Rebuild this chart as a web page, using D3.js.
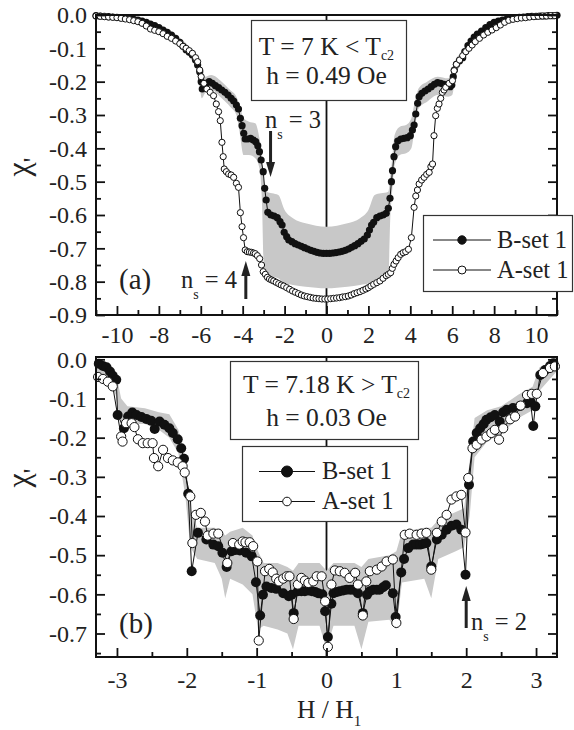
<!DOCTYPE html>
<meta charset="utf-8">
<title>chi' vs H</title>
<style>
  body { margin: 0; background: #fff; }
  text { font-family: "Liberation Serif", "Times New Roman", serif; fill: #222; }
  .band { fill: #c8c8c8; stroke: none; }
  .trace { fill: none; stroke: #111; stroke-width: 1; }
  .zero { stroke: #111; stroke-width: 1.8; }
  .frame { fill: none; stroke: #111; stroke-width: 2; }
  .box { fill: #fff; stroke: #333; stroke-width: 1.2; }
</style>
<body>
<script src="https://cdnjs.cloudflare.com/ajax/libs/d3/7.8.5/d3.min.js"></script>
<script>

var width = 574, height = 730;

// ---- panel (a): T = 7 K, h = 0.49 Oe, x = H (Oe) ----
var aBset = [
  [-11,-0.002],[-10.8,-0.003],[-10.6,-0.004],[-10.4,-0.005],[-10.2,-0.006],[-10,-0.007],
  [-9.8,-0.008],[-9.6,-0.009],[-9.4,-0.011],[-9.2,-0.013],[-9,-0.015],[-8.8,-0.018],
  [-8.6,-0.022],[-8.4,-0.027],[-8.2,-0.032],[-8,-0.038],[-7.8,-0.045],[-7.6,-0.052],
  [-7.4,-0.06],[-7.2,-0.07],[-7,-0.082],[-6.85,-0.094],[-6.7,-0.104],[-6.55,-0.112],
  [-6.4,-0.12],[-6.25,-0.135],[-6.15,-0.15],[-6.05,-0.17],[-5.98,-0.2],[-5.93,-0.222],
  [-5.85,-0.215],[-5.75,-0.205],[-5.6,-0.2],[-5.45,-0.205],[-5.3,-0.212],[-5.15,-0.218],
  [-5,-0.225],[-4.85,-0.232],[-4.7,-0.24],[-4.55,-0.25],[-4.43,-0.258],[-4.3,-0.27],
  [-4.2,-0.282],[-4.11,-0.31],[-4.03,-0.332],[-3.95,-0.355],[-3.88,-0.372],[-3.75,-0.372],
  [-3.62,-0.37],[-3.5,-0.375],[-3.38,-0.38],[-3.28,-0.392],[-3.2,-0.41],[-3.12,-0.435],
  [-3.02,-0.47],[-2.95,-0.52],[-2.88,-0.555],[-2.8,-0.592],[-2.65,-0.6],[-2.5,-0.603],
  [-2.35,-0.608],[-2.22,-0.62],[-2.12,-0.63],[-2.02,-0.652],[-1.9,-0.665],[-1.8,-0.675],
  [-1.65,-0.68],[-1.5,-0.686],[-1.35,-0.69],[-1.2,-0.694],[-1.05,-0.698],[-0.9,-0.702],
  [-0.75,-0.706],[-0.6,-0.709],[-0.45,-0.712],[-0.3,-0.714],[-0.15,-0.715],[0,-0.715],
  [0.15,-0.715],[0.3,-0.714],[0.45,-0.713],[0.6,-0.711],[0.75,-0.709],[0.9,-0.706],
  [1.05,-0.702],[1.2,-0.697],[1.35,-0.692],[1.5,-0.686],[1.65,-0.679],[1.8,-0.672],
  [1.95,-0.66],[2.05,-0.645],[2.15,-0.63],[2.25,-0.622],[2.4,-0.608],[2.55,-0.603],
  [2.7,-0.6],[2.85,-0.595],[2.95,-0.58],[3.03,-0.55],[3.1,-0.5],[3.15,-0.467],
  [3.22,-0.425],[3.3,-0.395],[3.4,-0.378],[3.55,-0.372],[3.7,-0.37],[3.85,-0.368],
  [4,-0.362],[4.1,-0.345],[4.18,-0.33],[4.26,-0.297],[4.35,-0.265],[4.42,-0.245],
  [4.55,-0.235],[4.7,-0.228],[4.85,-0.222],[5,-0.215],[5.15,-0.208],[5.3,-0.203],
  [5.45,-0.205],[5.6,-0.208],[5.78,-0.212],[5.9,-0.215],[5.98,-0.21],[6.05,-0.185],
  [6.1,-0.165],[6.2,-0.148],[6.35,-0.137],[6.5,-0.128],[6.6,-0.11],[6.75,-0.092],
  [6.9,-0.078],[7.05,-0.066],[7.2,-0.057],[7.4,-0.048],[7.6,-0.038],[7.8,-0.029],
  [8,-0.022],[8.2,-0.018],[8.4,-0.015],[8.6,-0.012],[8.8,-0.01],[9,-0.008],
  [9.2,-0.007],[9.4,-0.006],[9.6,-0.005],[9.8,-0.004],[10,-0.004],[10.2,-0.003],
  [10.4,-0.003],[10.6,-0.002],[10.8,-0.002],[11,-0.001]
];

var aAset = [
  [-11,-0.003],[-10.8,-0.004],[-10.6,-0.005],[-10.4,-0.006],[-10.2,-0.007],[-10,-0.008],
  [-9.8,-0.01],[-9.6,-0.012],[-9.4,-0.014],[-9.2,-0.017],[-9,-0.02],[-8.8,-0.025],
  [-8.6,-0.033],[-8.4,-0.042],[-8.2,-0.046],[-8,-0.05],[-7.8,-0.056],[-7.6,-0.064],
  [-7.4,-0.07],[-7.2,-0.078],[-7,-0.086],[-6.85,-0.094],[-6.7,-0.1],[-6.55,-0.107],
  [-6.4,-0.115],[-6.25,-0.128],[-6.15,-0.14],[-6.05,-0.165],[-5.98,-0.185],[-5.85,-0.205],
  [-5.71,-0.222],[-5.55,-0.232],[-5.39,-0.242],[-5.26,-0.267],[-5.15,-0.29],[-5.07,-0.317],
  [-4.99,-0.382],[-4.93,-0.425],[-4.88,-0.462],[-4.78,-0.47],[-4.67,-0.477],[-4.55,-0.48],
  [-4.43,-0.487],[-4.3,-0.505],[-4.2,-0.517],[-4.11,-0.593],[-4.03,-0.635],[-3.96,-0.668],
  [-3.88,-0.705],[-3.78,-0.71],[-3.68,-0.711],[-3.58,-0.712],[-3.48,-0.714],[-3.4,-0.716],
  [-3.3,-0.722],[-3.19,-0.731],[-3.1,-0.75],[-3.02,-0.77],[-2.92,-0.778],[-2.82,-0.787],
  [-2.72,-0.792],[-2.62,-0.795],[-2.52,-0.798],[-2.4,-0.802],[-2.28,-0.806],[-2.16,-0.81],
  [-2.04,-0.813],[-1.9,-0.818],[-1.76,-0.823],[-1.62,-0.828],[-1.48,-0.832],[-1.34,-0.836],
  [-1.2,-0.84],[-1.06,-0.843],[-0.92,-0.845],[-0.78,-0.847],[-0.64,-0.849],[-0.5,-0.85],
  [-0.36,-0.851],[-0.22,-0.852],[-0.08,-0.852],[0.06,-0.852],[0.2,-0.851],[0.34,-0.85],
  [0.48,-0.849],[0.62,-0.848],[0.76,-0.846],[0.9,-0.845],[1.04,-0.843],[1.18,-0.84],
  [1.32,-0.836],[1.46,-0.833],[1.6,-0.83],[1.74,-0.826],[1.88,-0.822],[2,-0.818],
  [2.12,-0.813],[2.25,-0.808],[2.4,-0.803],[2.55,-0.798],[2.7,-0.79],[2.85,-0.782],
  [2.95,-0.778],[3.06,-0.773],[3.14,-0.76],[3.22,-0.748],[3.32,-0.738],[3.42,-0.728],
  [3.54,-0.718],[3.66,-0.713],[3.78,-0.71],[3.91,-0.703],[4.05,-0.668],[4.18,-0.577],
  [4.26,-0.543],[4.34,-0.525],[4.42,-0.507],[4.54,-0.495],[4.66,-0.487],[4.78,-0.478],
  [4.9,-0.472],[4.98,-0.455],[5.06,-0.447],[5.13,-0.362],[5.21,-0.302],[5.29,-0.28],
  [5.37,-0.267],[5.45,-0.25],[5.53,-0.232],[5.61,-0.225],[5.69,-0.217],[5.85,-0.205],
  [6.01,-0.197],[6.09,-0.167],[6.2,-0.148],[6.35,-0.135],[6.5,-0.122],[6.65,-0.11],
  [6.8,-0.1],[6.95,-0.09],[7.1,-0.08],[7.3,-0.07],[7.5,-0.06],[7.7,-0.052],
  [7.9,-0.045],[8.1,-0.038],[8.3,-0.03],[8.5,-0.022],[8.7,-0.016],[8.9,-0.013],
  [9.1,-0.011],[9.3,-0.009],[9.5,-0.008],[9.7,-0.006],[9.9,-0.005],[10.1,-0.004],
  [10.3,-0.003],[10.5,-0.003],[10.7,-0.002],[10.9,-0.002]
];

// grey band around B-set: [H, upper, lower]
var aBand = [
  [-11,0,-0.004],[-10,-0.004,-0.01],[-9,-0.01,-0.02],[-8,-0.03,-0.046],[-7.5,-0.045,-0.068],
  [-7,-0.068,-0.095],[-6.5,-0.098,-0.13],[-6.2,-0.122,-0.168],[-6.05,-0.148,-0.215],
  [-5.95,-0.175,-0.25],[-5.8,-0.185,-0.235],[-5.5,-0.18,-0.225],[-5,-0.2,-0.25],
  [-4.6,-0.225,-0.275],[-4.3,-0.245,-0.3],[-4.15,-0.27,-0.35],[-3.95,-0.31,-0.42],
  [-3.7,-0.32,-0.42],[-3.4,-0.325,-0.43],[-3.2,-0.37,-0.46],[-3.08,-0.42,-0.56],
  [-2.98,-0.5,-0.77],[-2.85,-0.53,-0.785],[-2.6,-0.535,-0.785],[-2.3,-0.54,-0.79],
  [-2,-0.585,-0.805],[-1.6,-0.61,-0.81],[-1,-0.625,-0.815],[-0.5,-0.632,-0.818],
  [0,-0.635,-0.82],[0.5,-0.632,-0.818],[1,-0.625,-0.815],[1.6,-0.61,-0.81],
  [2,-0.585,-0.805],[2.3,-0.54,-0.795],[2.6,-0.535,-0.79],[2.95,-0.53,-0.785],
  [3.05,-0.48,-0.6],[3.12,-0.44,-0.54],[3.25,-0.36,-0.45],[3.5,-0.335,-0.42],
  [3.8,-0.33,-0.415],[4.05,-0.31,-0.4],[4.2,-0.265,-0.345],[4.4,-0.22,-0.28],
  [4.8,-0.2,-0.26],[5.3,-0.185,-0.24],[5.8,-0.19,-0.245],[6,-0.17,-0.24],
  [6.15,-0.135,-0.185],[6.4,-0.115,-0.15],[7,-0.06,-0.085],[7.5,-0.04,-0.06],
  [8,-0.02,-0.036],[9,-0.006,-0.014],[10,-0.002,-0.008],[11,0,-0.004]
];

var aXTicks = [-10, -8, -6, -4, -2, 0, 2, 4, 6, 8, 10];
var aXMinor = [-11, -9, -7, -5, -3, -1, 1, 3, 5, 7, 9, 11];
var aYTicks = [0, -0.1, -0.2, -0.3, -0.4, -0.5, -0.6, -0.7, -0.8, -0.9];
var aYMinor = [-0.05, -0.15, -0.25, -0.35, -0.45, -0.55, -0.65, -0.75, -0.85];

// ---- panel (b): T = 7.18 K, h = 0.03 Oe, x = H / H1 ----
var bBset = [
  [-3.26,-0.011],[-3.2,-0.017],[-3.15,-0.02],[-3.1,-0.031],[-3.06,-0.042],[-3.01,-0.052],
  [-2.99,-0.142],[-2.9,-0.176],[-2.84,-0.146],[-2.78,-0.136],[-2.72,-0.142],[-2.65,-0.147],
  [-2.58,-0.152],[-2.51,-0.157],[-2.46,-0.178],[-2.39,-0.159],[-2.32,-0.167],[-2.25,-0.176],
  [-2.2,-0.188],[-2.13,-0.204],[-2.08,-0.227],[-2.04,-0.254],[-1.98,-0.343],[-1.93,-0.541],
  [-1.84,-0.443],[-1.72,-0.46],[-1.62,-0.473],[-1.55,-0.477],[-1.49,-0.494],[-1.43,-0.53],
  [-1.36,-0.49],[-1.3,-0.487],[-1.24,-0.488],[-1.15,-0.494],[-1.07,-0.503],[-1.01,-0.569],
  [-0.95,-0.654],[-0.91,-0.601],[-0.86,-0.58],[-0.79,-0.584],[-0.72,-0.586],[-0.62,-0.597],
  [-0.54,-0.605],[-0.5,-0.601],[-0.47,-0.648],[-0.41,-0.592],[-0.36,-0.592],[-0.31,-0.592],
  [-0.26,-0.59],[-0.21,-0.592],[-0.16,-0.594],[-0.12,-0.597],[-0.06,-0.6],[-0.02,-0.643],
  [0.02,-0.709],[0.07,-0.624],[0.1,-0.597],[0.15,-0.594],[0.19,-0.592],[0.24,-0.59],
  [0.29,-0.588],[0.34,-0.588],[0.38,-0.588],[0.45,-0.597],[0.52,-0.648],[0.58,-0.601],
  [0.62,-0.592],[0.67,-0.588],[0.72,-0.588],[0.76,-0.588],[0.81,-0.582],[0.85,-0.577],
  [0.95,-0.597],[0.99,-0.658],[1.07,-0.544],[1.11,-0.51],[1.17,-0.482],[1.24,-0.473],
  [1.29,-0.473],[1.34,-0.473],[1.39,-0.471],[1.43,-0.469],[1.5,-0.529],[1.58,-0.46],
  [1.65,-0.448],[1.72,-0.435],[1.79,-0.425],[1.86,-0.422],[1.93,-0.435],[1.99,-0.55],
  [2.04,-0.32],[2.1,-0.21],[2.15,-0.188],[2.2,-0.176],[2.25,-0.165],[2.29,-0.154],
  [2.35,-0.148],[2.41,-0.142],[2.48,-0.159],[2.53,-0.135],[2.58,-0.129],[2.67,-0.124],
  [2.77,-0.119],[2.87,-0.112],[2.92,-0.108],[2.96,-0.17],[2.99,-0.12],[3.06,-0.04],
  [3.13,-0.027],[3.2,-0.017],[3.25,-0.01]
];

var bAset = [
  [-3.27,-0.045],[-3.2,-0.05],[-3.13,-0.057],[-3.06,-0.069],[-2.94,-0.197],[-2.92,-0.21],
  [-2.87,-0.163],[-2.79,-0.163],[-2.75,-0.173],[-2.7,-0.204],[-2.63,-0.214],[-2.56,-0.214],
  [-2.49,-0.214],[-2.47,-0.252],[-2.41,-0.273],[-2.34,-0.231],[-2.27,-0.252],[-2.2,-0.258],
  [-2.13,-0.263],[-2.06,-0.273],[-2.03,-0.289],[-1.95,-0.35],[-1.92,-0.469],[-1.87,-0.397],
  [-1.8,-0.392],[-1.74,-0.414],[-1.7,-0.45],[-1.62,-0.445],[-1.55,-0.445],[-1.42,-0.52],
  [-1.34,-0.469],[-1.25,-0.473],[-1.2,-0.465],[-1.16,-0.467],[-1.1,-0.467],[-1.05,-0.477],
  [-0.99,-0.516],[-0.97,-0.718],[-0.88,-0.541],[-0.82,-0.535],[-0.77,-0.544],[-0.72,-0.56],
  [-0.68,-0.567],[-0.62,-0.56],[-0.57,-0.554],[-0.53,-0.554],[-0.47,-0.663],[-0.41,-0.575],
  [-0.36,-0.558],[-0.31,-0.565],[-0.26,-0.571],[-0.19,-0.567],[-0.14,-0.554],[-0.07,-0.554],
  [-0.02,-0.618],[0.02,-0.734],[0.07,-0.575],[0.12,-0.539],[0.19,-0.541],[0.26,-0.545],
  [0.33,-0.558],[0.41,-0.545],[0.45,-0.575],[0.52,-0.654],[0.57,-0.567],[0.62,-0.541],
  [0.72,-0.537],[0.79,-0.529],[0.86,-0.516],[0.95,-0.511],[1,-0.673],[1.12,-0.448],
  [1.19,-0.445],[1.29,-0.448],[1.36,-0.445],[1.43,-0.443],[1.5,-0.537],[1.58,-0.443],
  [1.65,-0.414],[1.72,-0.397],[1.79,-0.358],[1.86,-0.35],[1.93,-0.346],[1.99,-0.442],
  [2.03,-0.303],[2.09,-0.227],[2.15,-0.218],[2.22,-0.205],[2.29,-0.197],[2.36,-0.188],
  [2.41,-0.18],[2.47,-0.205],[2.53,-0.176],[2.63,-0.153],[2.7,-0.146],[2.78,-0.118],
  [2.87,-0.091],[2.94,-0.088],[3.01,-0.088],[3.1,-0.035],[3.2,-0.022],[3.27,-0.018]
];

var bBand = [
  [-3.3,0,-0.03],[-3.15,-0.01,-0.05],[-3.02,-0.03,-0.09],[-2.94,-0.1,-0.17],
  [-2.85,-0.12,-0.165],[-2.6,-0.125,-0.165],[-2.4,-0.135,-0.18],[-2.25,-0.14,-0.2],
  [-2.12,-0.18,-0.24],[-2.02,-0.25,-0.35],[-1.95,-0.38,-0.48],[-1.85,-0.43,-0.51],
  [-1.6,-0.43,-0.52],[-1.5,-0.44,-0.56],[-1.45,-0.45,-0.61],[-1.38,-0.44,-0.56],
  [-1.2,-0.43,-0.575],[-1.06,-0.45,-0.6],[-0.98,-0.49,-0.69],[-0.9,-0.52,-0.68],
  [-0.7,-0.52,-0.69],[-0.56,-0.53,-0.7],[-0.48,-0.54,-0.74],[-0.4,-0.52,-0.68],
  [-0.1,-0.52,-0.68],[0,-0.54,-0.74],[0.1,-0.52,-0.68],[0.4,-0.52,-0.68],
  [0.5,-0.53,-0.74],[0.6,-0.51,-0.67],[0.9,-0.5,-0.665],[1,-0.49,-0.69],
  [1.08,-0.44,-0.57],[1.4,-0.43,-0.56],[1.5,-0.43,-0.61],[1.6,-0.41,-0.51],
  [1.85,-0.39,-0.49],[1.97,-0.38,-0.48],[2.05,-0.26,-0.4],[2.12,-0.15,-0.25],
  [2.3,-0.13,-0.21],[2.5,-0.12,-0.19],[2.75,-0.09,-0.15],[2.95,-0.07,-0.13],
  [3.05,-0.02,-0.08],[3.3,0,-0.03]
];

var bXTicks = [-3, -2, -1, 0, 1, 2, 3];
var bXMinor = [-2.5, -1.5, -0.5, 0.5, 1.5, 2.5];
var bYTicks = [0, -0.1, -0.2, -0.3, -0.4, -0.5, -0.6, -0.7];
var bYMinor = [-0.05, -0.15, -0.25, -0.35, -0.45, -0.55, -0.65, -0.75];

var legendNames = ["B-set 1", "A-set 1"];

var left = 96, right = 557;

var svg = d3.select("body").append("svg")
  .attr("width", width)
  .attr("height", height);

svg.append("rect").attr("width", width).attr("height", height).attr("fill", "#fff");

function drawPanel(p) {
  var x = d3.scaleLinear().domain(p.xDomain).range([left, right]);
  var y = d3.scaleLinear().domain(p.yDomain).range([p.bottom, p.top]);
  var g = svg.append("g");

  // H = 0 line (sits under the band)
  g.append("line").attr("class", "zero")
    .attr("x1", x(0)).attr("x2", x(0))
    .attr("y1", p.top).attr("y2", p.bottom);

  g.append("path").datum(p.band).attr("class", "band")
    .attr("d", d3.area()
      .curve(p.smoothBand ? d3.curveMonotoneX : d3.curveLinear)
      .x(function(d) { return x(d[0]); })
      .y0(function(d) { return y(d[2]); })
      .y1(function(d) { return y(d[1]); }));

  var line = d3.line()
    .x(function(d) { return x(d[0]); })
    .y(function(d) { return y(d[1]); });

  g.append("path").datum(p.B).attr("class", "trace").attr("d", line);
  g.selectAll(".ptB").data(p.B).enter().append("circle")
    .attr("class", "ptB")
    .attr("cx", function(d) { return x(d[0]); })
    .attr("cy", function(d) { return y(d[1]); })
    .attr("r", p.rFill).attr("fill", "#111");

  g.append("path").datum(p.A).attr("class", "trace").attr("d", line);
  g.selectAll(".ptA").data(p.A).enter().append("circle")
    .attr("class", "ptA")
    .attr("cx", function(d) { return x(d[0]); })
    .attr("cy", function(d) { return y(d[1]); })
    .attr("r", p.rOpen).attr("fill", "#fff")
    .attr("stroke", "#111").attr("stroke-width", 1);

  // axes, ticks point inward
  function style(sel, size) {
    sel.select(".domain").remove();
    sel.selectAll(".tick line").attr("stroke", "#111").attr("stroke-width", 1.8);
    sel.attr("font-family", "Liberation Serif").attr("font-size", size);
    sel.selectAll("text").attr("fill", "#222");
  }
  g.append("g").attr("transform", "translate(0," + p.bottom + ")")
    .call(d3.axisBottom(x).tickValues(p.xTicks).tickSize(-9).tickPadding(p.xPad)
      .tickFormat(function(d) { return String(d); }))
    .call(style, 24);
  g.append("g").attr("transform", "translate(0," + p.bottom + ")")
    .call(d3.axisBottom(x).tickValues(p.xMinor).tickSize(-5).tickFormat(""))
    .call(style, 24);
  g.append("g").attr("transform", "translate(" + left + ",0)")
    .call(d3.axisLeft(y).tickValues(p.yTicks).tickSize(-9).tickPadding(9)
      .tickFormat(function(d) { return d.toFixed(1); }))
    .call(style, 24);
  g.append("g").attr("transform", "translate(" + left + ",0)")
    .call(d3.axisLeft(y).tickValues(p.yMinor).tickSize(-5).tickFormat(""))
    .call(style, 24);
  g.append("g").attr("transform", "translate(" + right + ",0)")
    .call(d3.axisRight(y).tickValues(p.yTicks).tickSize(-9).tickFormat(""))
    .call(style, 24);
  g.append("g").attr("transform", "translate(" + right + ",0)")
    .call(d3.axisRight(y).tickValues(p.yMinor).tickSize(-5).tickFormat(""))
    .call(style, 24);

  g.append("rect").attr("class", "frame")
    .attr("x", left).attr("y", p.top)
    .attr("width", right - left).attr("height", p.bottom - p.top);

  // y title chi'
  var yt = g.append("text")
    .attr("transform", "translate(29," + p.yTitleY + ") rotate(-90)")
    .attr("text-anchor", "middle").attr("font-size", 32);
  yt.append("tspan").text("\u03c7");
  yt.append("tspan").attr("font-size", 26).attr("dy", "0.45em").text("'");

  // condition box
  var bx = p.condBox;
  g.append("rect").attr("class", "box")
    .attr("x", bx[0]).attr("y", bx[1]).attr("width", bx[2]).attr("height", bx[3]);
  var t1 = g.append("text").attr("x", x(0)).attr("y", p.condY[0])
    .attr("text-anchor", "middle").attr("font-size", 25.5);
  t1.append("tspan").text(p.cond[0]);
  t1.append("tspan").attr("font-size", 14).attr("dy", 5).text("c2");
  g.append("text").attr("x", x(0)).attr("y", p.condY[1])
    .attr("text-anchor", "middle").attr("font-size", 25.5).text(p.cond[1]);

  // legend
  var lg = p.legend;
  g.append("rect").attr("class", "box")
    .attr("x", lg.box[0]).attr("y", lg.box[1]).attr("width", lg.box[2]).attr("height", lg.box[3]);
  legendNames.forEach(function(name, i) {
    var ry = lg.rows[i];
    g.append("line").attr("x1", lg.line[0]).attr("x2", lg.line[1])
      .attr("y1", ry).attr("y2", ry).attr("stroke", "#111").attr("stroke-width", 1);
    var m = (lg.line[0] + lg.line[1]) / 2;
    g.append("circle").attr("cx", m).attr("cy", ry)
      .attr("r", i === 0 ? lg.rFill : lg.rOpen)
      .attr("fill", i === 0 ? "#111" : "#fff")
      .attr("stroke", "#111").attr("stroke-width", 1);
    g.append("text").attr("x", lg.textX).attr("y", ry + 7.5)
      .attr("font-size", 24.5).text(name);
  });

  // panel letter
  g.append("text").attr("x", 119).attr("y", p.letterY)
    .attr("font-size", 29).text(p.letter);

  return { x: x, y: y, g: g };
}

function arrow(g, xp, yFrom, yTo) {
  var dir = yTo > yFrom ? 1 : -1;
  g.append("line").attr("x1", xp).attr("x2", xp)
    .attr("y1", yFrom).attr("y2", yTo - dir * 12)
    .attr("stroke", "#222").attr("stroke-width", 3);
  g.append("path")
    .attr("d", "M" + (xp - 4.5) + "," + (yTo - dir * 15) + "L" + (xp + 4.5) + "," + (yTo - dir * 15) +
      "L" + xp + "," + yTo + "Z")
    .attr("fill", "#222");
}

function nsLabel(g, xp, yp, n) {
  var t = g.append("text").attr("x", xp).attr("y", yp).attr("font-size", 24.5);
  t.append("tspan").text("n");
  t.append("tspan").attr("font-size", 14).attr("dy", 11).text("s");
  t.append("tspan").attr("dy", -11).text(" = " + n);
}

var A = drawPanel({
  xDomain: [-11, 11], yDomain: [-0.9, 0], top: 15, bottom: 315,
  B: aBset, A: aAset, band: aBand, smoothBand: true, rFill: 3.6, rOpen: 3.1,
  xTicks: aXTicks, xMinor: aXMinor, yTicks: aYTicks, yMinor: aYMinor, xPad: 11,
  yTitleY: 167,
  condBox: [251.5, 20.5, 155, 80], condY: [55, 84],
  cond: ["T = 7 K < T", "h = 0.49 Oe"],
  legend: { box: [423.5, 215.5, 149, 76], rows: [240, 270], line: [433, 491],
            textX: 497, rFill: 4.2, rOpen: 4 },
  letter: "(a)", letterY: 289
});
arrow(A.g, A.x(-2.67), 131, 177);
nsLabel(A.g, 265, 128, 3);
arrow(A.g, A.x(-3.85), 299, 261);
nsLabel(A.g, 181, 288, 4);

var B = drawPanel({
  xDomain: [-3.3, 3.3], yDomain: [-0.76, 0.006], top: 357, bottom: 657,
  B: bBset, A: bAset, band: bBand, smoothBand: false, rFill: 5, rOpen: 4.6,
  xTicks: bXTicks, xMinor: bXMinor, yTicks: bYTicks, yMinor: bYMinor, xPad: 14,
  yTitleY: 478,
  condBox: [230.5, 361.5, 188, 78], condY: [393, 426],
  cond: ["T = 7.18 K > T", "h = 0.03 Oe"],
  legend: { box: [242.5, 446.5, 165, 75], rows: [471.5, 501.5], line: [259, 315],
            textX: 322, rFill: 5.5, rOpen: 4.3 },
  letter: "(b)", letterY: 633
});
arrow(B.g, B.x(2), 628, 586);
nsLabel(B.g, 471, 630, 2);

// x title
var xt = svg.append("text").attr("x", 297).attr("y", 718).attr("font-size", 25.5);
xt.append("tspan").text("H / H");
xt.append("tspan").attr("font-size", 15).attr("dy", 8).text("1");

</script>
